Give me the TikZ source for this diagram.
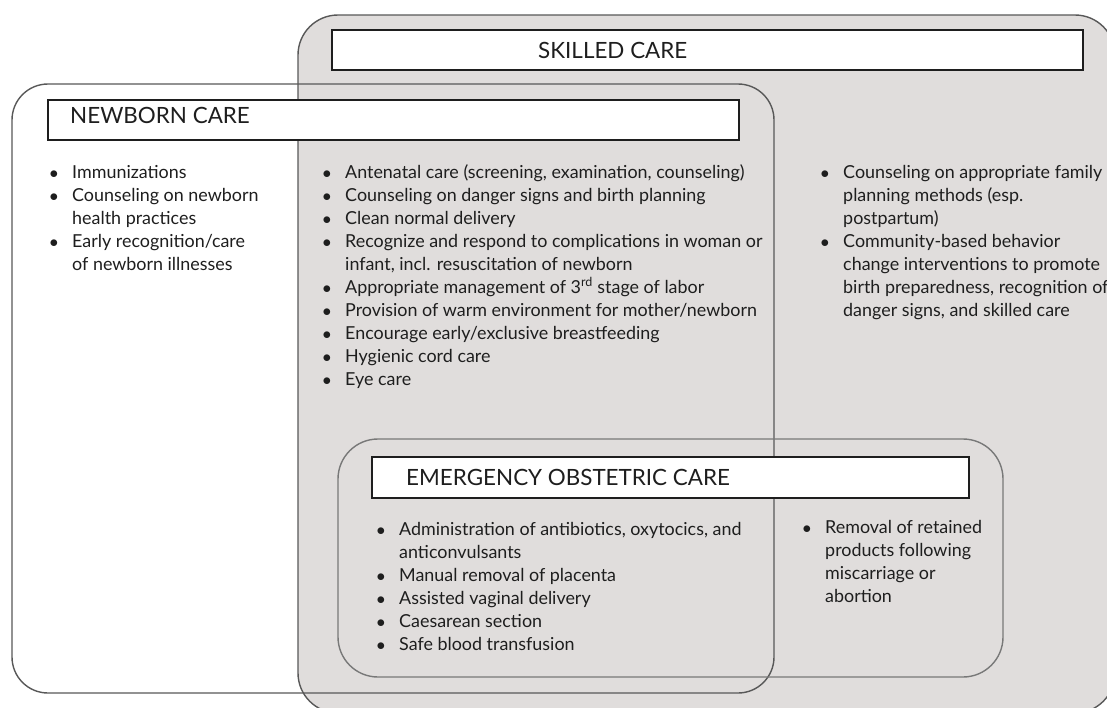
\documentclass[tikz,border=0pt]{standalone}
\usepackage{fontspec}
\setmainfont{Lato}
\definecolor{panel}{RGB}{224,221,220}
\definecolor{rim}{RGB}{88,88,88}
\definecolor{softrim}{RGB}{120,120,120}
\definecolor{ink}{RGB}{30,30,30}
\newcommand{\bul}{\llap{$\bullet$\hspace{14pt}}}
\newenvironment{pointlist}{\fontsize{17.9}{23}\selectfont\begin{tabular}[t]{@{}l@{}}}{\end{tabular}}
\tikzset{
  region/.style={draw=rim, line width=1.4pt, inner sep=0pt},
  titlebox/.style={draw=ink, line width=1.8pt, fill=white, inner sep=0pt},
  titletext/.style={anchor=base west, inner sep=0pt, text=ink, font=\fontsize{22.4}{26}\selectfont},
  listtext/.style={anchor=base west, inner sep=0pt, text=ink},
}
\begin{document}
\begin{tikzpicture}[x=1pt,y=-1pt]
\useasboundingbox (0,0) rectangle (1107,707);
\clip (0,0) rectangle (1107,707);
\fill[white] (0,0) rectangle (1107,707);

% outer regions
\node[region, fill=panel, rounded corners=40pt, minimum width=817pt, minimum height=698pt] (skilled) at (706.5,364) {};
\node[region, rounded corners=36pt, minimum width=762pt, minimum height=609pt] (newborn) at (393,388.5) {};
\node[region, draw=softrim, rounded corners=40pt, minimum width=665pt, minimum height=238pt] (emergency) at (670.5,558) {};

% title bars
\node[titlebox, minimum width=751pt, minimum height=40pt] (skilledbar) at (707.5,50) {};
\node[titlebox, minimum width=691pt, minimum height=40pt] (newbornbar) at (393.5,120) {};
\node[titlebox, minimum width=597pt, minimum height=41pt] (emergencybar) at (670.5,477.5) {};

\node[titletext] (skilledtitle) at (538,58) {SKILLED CARE};
\node[titletext] (newborntitle) at (70,123) {NEWBORN CARE};
\node[titletext] (emergencytitle) at (406,485) {EMERGENCY OBSTETRIC CARE};

% newborn-only items
\node[listtext] (listnewborn) at (72,178) {\begin{pointlist}
\bul Immunizations\\
\bul Counseling on newborn\\
health practices\\
\bul Early recognition/care\\
of newborn illnesses
\end{pointlist}};

% shared newborn and skilled items
\node[listtext] (listshared) at (345,178) {\begin{pointlist}
\bul Antenatal care (screening, examination, counseling)\\
\bul Counseling on danger signs and birth planning\\
\bul Clean normal delivery\\
\bul Recognize and respond to complications in woman or\\
infant, incl. resuscitation of newborn\\
\bul Appropriate management of 3\textsuperscript{rd} stage of labor\\
\bul Provision of warm environment for mother/newborn\\
\bul Encourage early/exclusive breastfeeding\\
\bul Hygienic cord care\\
\bul Eye care
\end{pointlist}};

% skilled-only items
\node[listtext] (listskilled) at (843,178) {\begin{pointlist}
\bul Counseling on appropriate family\\
planning methods (esp.\\
postpartum)\\
\bul Community-based behavior\\
change interventions to promote\\
birth preparedness, recognition of\\
danger signs, and skilled care
\end{pointlist}};

% emergency items
\node[listtext] (listemergency) at (399,535) {\begin{pointlist}
\bul Administration of antibiotics, oxytocics, and\\
anticonvulsants\\
\bul Manual removal of placenta\\
\bul Assisted vaginal delivery\\
\bul Caesarean section\\
\bul Safe blood transfusion
\end{pointlist}};

\node[listtext] (listretained) at (825,533) {\begin{pointlist}
\bul Removal of retained\\
products following\\
miscarriage or\\
abortion
\end{pointlist}};
\end{tikzpicture}
\end{document}
